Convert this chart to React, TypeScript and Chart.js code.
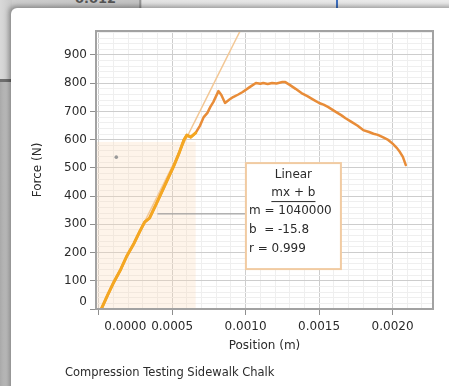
import React, { useEffect, useRef } from 'react';
import { Chart, registerables } from 'chart.js';

Chart.register(...registerables);

const FONT = '"DejaVu Sans", Verdana, sans-serif';
const INK = '#2b2b2b';

// Compression run: plunger position (m) and measured force (N)
const POSITION_M = [
  0.00002, 0.00006, 0.0001, 0.00015, 0.00019, 0.00024, 0.00028, 0.000313, 0.000346, 0.00039,
  0.00043, 0.000467, 0.00051, 0.00055, 0.00058, 0.0006, 0.000627, 0.00066, 0.00069, 0.000715,
  0.00074, 0.00076, 0.00078, 0.000815, 0.000835, 0.00086, 0.00089, 0.000915, 0.00095, 0.00098,
  0.00103, 0.00107, 0.0011, 0.00112, 0.00115, 0.00118, 0.00121, 0.00125, 0.00127, 0.0013,
  0.00134, 0.00138, 0.00142, 0.00146, 0.0015, 0.00153, 0.00156, 0.0016, 0.00165, 0.00168,
  0.00172, 0.00176, 0.0018, 0.00184, 0.00187, 0.0019, 0.00194, 0.00197, 0.002, 0.00203,
  0.00205, 0.00207, 0.00209,
];
const FORCE_N = [
  2, 48, 92, 140, 186, 232, 275, 308, 322, 370,
  415, 457, 505, 556, 599, 616, 609, 624, 650, 680,
  695, 716, 733, 772, 758, 730, 742, 751, 760, 769,
  787, 801, 798, 801, 797, 801, 799, 804, 804, 794,
  780, 765, 754, 742, 730, 724, 716, 703, 687, 676,
  663, 650, 634, 627, 621, 617, 607, 599, 586, 570,
  556, 539, 510,
];

// Analysed selection
const SELECTION_END_M = 0.00066;
const SELECTION_TOP_N = 592;

// Linear fit over the selection
const FIT_M = 1040000;
const FIT_B = -15.8;
const FIT_R = 0.999;
const FIT_SPAN_M = [0, 0.001];

// Stray marker point
const MARKER_X = [0.00012];
const MARKER_F = [538];

// Axis ranges and tick spacing
const X_MIN = -0.000018;
const X_MAX = 0.002275;
const X_MAJOR = 0.0005;
const X_MINOR = 0.0001;
const Y_MIN = 0;
const Y_MAX = 985;
const Y_MAJOR = 100;
const Y_MINOR = 20;

// Fit annotation anchors (data units)
const LEADER_FROM = [0.0004, 337];
const BOX_AT = [0.001002, 517];

const X_TITLE = 'Position (m)';
const Y_TITLE = 'Force (N)';
const CAPTION = 'Compression Testing Sidewalk Chalk';

const isMultiple = (v: number, step: number) => Math.abs(v / step - Math.round(v / step)) < 1e-6;

const decorPlugin = {
  id: 'decor',
  beforeDatasetsDraw(chart: any) {
    const { ctx, chartArea: a, scales } = chart;
    const right = scales.x.getPixelForValue(SELECTION_END_M);
    const top = scales.y.getPixelForValue(SELECTION_TOP_N);
    ctx.save();
    ctx.fillStyle = 'rgba(250, 214, 178, 0.28)';
    ctx.fillRect(a.left, top, right - a.left, a.bottom - top);
    ctx.restore();
  },
  afterDatasetsDraw(chart: any) {
    const { ctx, scales } = chart;
    const bx = scales.x.getPixelForValue(BOX_AT[0]);
    const by = scales.y.getPixelForValue(BOX_AT[1]);
    const lx = scales.x.getPixelForValue(LEADER_FROM[0]);
    const ly = scales.y.getPixelForValue(LEADER_FROM[1]);
    const w = 95;
    const h = 106;
    ctx.save();
    // leader
    ctx.strokeStyle = '#8c8c8c';
    ctx.lineWidth = 1;
    ctx.beginPath();
    ctx.moveTo(lx, ly);
    ctx.lineTo(bx, ly);
    ctx.stroke();
    // box
    ctx.fillStyle = '#ffffff';
    ctx.fillRect(bx, by, w, h);
    ctx.strokeStyle = '#f1cba2';
    ctx.lineWidth = 2;
    ctx.strokeRect(bx, by, w, h);
    ctx.fillStyle = INK;
    ctx.font = `12px ${FONT}`;
    ctx.textBaseline = 'middle';
    ctx.textAlign = 'center';
    const cx = bx + w / 2;
    ctx.fillText('Linear', cx, by + 12);
    ctx.fillText('mx + b', cx, by + 30);
    const uw = ctx.measureText('mx + b').width;
    ctx.strokeStyle = INK;
    ctx.lineWidth = 1;
    ctx.beginPath();
    ctx.moveTo(cx - uw / 2, by + 38.5);
    ctx.lineTo(cx + uw / 2, by + 38.5);
    ctx.stroke();
    ctx.textAlign = 'left';
    ctx.fillText(`m = ${FIT_M}`, bx + 3, by + 48);
    ctx.fillText(`b  = ${FIT_B}`, bx + 3, by + 67);
    ctx.fillText(`r = ${FIT_R}`, bx + 3, by + 86);
    ctx.restore();
  },
  afterDraw(chart: any) {
    const { ctx, chartArea: a } = chart;
    ctx.save();
    ctx.strokeStyle = '#a2a2a2';
    ctx.lineWidth = 2;
    ctx.strokeRect(a.left, a.top, a.right - a.left, a.bottom - a.top);
    ctx.restore();
  },
};

export default function App() {
  const ref = useRef<HTMLCanvasElement | null>(null);

  useEffect(() => {
    if (!ref.current) return;
    const points = POSITION_M.map((x, i) => ({ x, y: FORCE_N[i] }));
    const selected = points.filter((p) => p.x <= SELECTION_END_M);
    const fit = FIT_SPAN_M.map((x) => ({ x, y: FIT_M * x + FIT_B }));
    const marker = MARKER_X.map((x, i) => ({ x, y: MARKER_F[i] }));

    const gridColor = (step: number) => (c: any) =>
      c.tick && isMultiple(c.tick.value, step) ? '#cdcdcd' : '#efefef';
    const tickColor = (step: number) => (c: any) =>
      c.tick && isMultiple(c.tick.value, step) ? '#8e8e8e' : 'rgba(0,0,0,0)';

    const chart = new Chart(ref.current, {
      type: 'line',
      data: {
        datasets: [
          {
            data: selected,
            borderColor: '#f4a722',
            borderWidth: 3,
            pointRadius: 0,
            borderJoinStyle: 'round',
            borderCapStyle: 'round',
          },
          {
            data: points,
            borderColor: '#e88c38',
            borderWidth: 2.5,
            pointRadius: 0,
            borderJoinStyle: 'round',
            borderCapStyle: 'round',
          },
          {
            data: fit,
            borderColor: '#f3c896',
            borderWidth: 1.5,
            pointRadius: 0,
          },
          {
            data: marker,
            showLine: false,
            pointRadius: 1.8,
            pointBorderWidth: 0,
            pointBackgroundColor: '#9a9a9a',
          },
        ],
      },
      options: {
        animation: false,
        responsive: false,
        devicePixelRatio: 1,
        layout: { padding: { left: 27, right: 16, top: 31, bottom: 30 } },
        plugins: { legend: { display: false }, tooltip: { enabled: false } },
        scales: {
          x: {
            type: 'linear',
            min: X_MIN,
            max: X_MAX,
            afterFit: (s: any) => {
              s.height = 47;
            },
            border: { display: false },
            grid: { color: gridColor(X_MAJOR), tickColor: tickColor(X_MAJOR), tickLength: 6, lineWidth: 1 },
            ticks: {
              stepSize: X_MINOR,
              includeBounds: false,
              autoSkip: false,
              maxRotation: 0,
              minRotation: 0,
              padding: 5,
              color: INK,
              font: { family: FONT, size: 12 },
              callback: (v: any) => {
                const n = Number(v);
                if (!isMultiple(n, X_MAJOR)) return '';
                const s = Math.abs(n) < 1e-9 ? (0).toFixed(4) : n.toFixed(4);
                return Math.abs(n) < 1e-9 ? '\u2007'.repeat(7) + s : s;
              },
            },
            title: {
              display: true,
              text: X_TITLE,
              color: INK,
              font: { family: FONT, size: 12 },
              padding: { top: 0, bottom: 3 },
            },
          },
          y: {
            type: 'linear',
            min: Y_MIN,
            max: Y_MAX,
            afterFit: (s: any) => {
              s.width = 69;
            },
            border: { display: false },
            grid: { color: gridColor(Y_MAJOR), tickColor: tickColor(Y_MAJOR), tickLength: 6, lineWidth: 1 },
            ticks: {
              stepSize: Y_MINOR,
              includeBounds: false,
              autoSkip: false,
              padding: 3,
              color: INK,
              font: { family: FONT, size: 12 },
              callback: (v: any) => {
                const n = Number(v);
                if (!isMultiple(n, Y_MAJOR)) return '';
                const s = String(Math.round(n));
                return n === 0 ? [s, ''] : s;
              },
            },
            title: {
              display: true,
              text: Y_TITLE,
              color: INK,
              font: { family: FONT, size: 12 },
              padding: { top: 4, bottom: 4 },
            },
          },
        },
      },
      plugins: [decorPlugin],
    } as any);
    return () => chart.destroy();
  }, []);

  return (
    <div
      style={{
        position: 'fixed',
        left: 0,
        top: 0,
        width: 449,
        height: 386,
        overflow: 'hidden',
        background: '#ffffff',
      }}
    >
      {/* strip of the window behind */}
      <div
        style={{
          position: 'absolute',
          left: 0,
          top: 0,
          width: 449,
          height: 12,
          background: 'linear-gradient(to right, #cfcfcf 0px, #c4c4c4 139px, #7d7d7d 140px, #e4e4e4 142px, #ececec 449px)',
        }}
      />
      <div
        style={{
          position: 'absolute',
          left: 75,
          top: -8,
          fontFamily: FONT,
          fontWeight: 'bold',
          fontSize: 13,
          lineHeight: '13px',
          color: '#555',
        }}
      >
        0.012
      </div>
      <div style={{ position: 'absolute', left: 336, top: 0, width: 2, height: 9, background: '#3d6fc0' }} />
      <div
        style={{
          position: 'absolute',
          left: 0,
          top: 0,
          width: 12,
          height: 80,
          background: 'linear-gradient(to right, #d9d9d9, #c9c9c9)',
        }}
      />
      <div style={{ position: 'absolute', left: 0, top: 79, width: 12, height: 3, background: '#6e6e6e' }} />
      <div
        style={{
          position: 'absolute',
          left: 0,
          top: 82,
          width: 12,
          height: 304,
          background: 'linear-gradient(to right, #a9a9a9, #cfcfcf)',
        }}
      />
      {/* chart panel */}
      <div
        style={{
          position: 'absolute',
          left: 11,
          top: 8,
          width: 460,
          height: 400,
          background: '#ffffff',
          borderTopLeftRadius: 6,
          boxShadow: '-2px -2px 5px rgba(0,0,0,0.35)',
        }}
      />
      <canvas
        ref={ref}
        width={449}
        height={386}
        style={{ position: 'absolute', left: 0, top: 0, width: 449, height: 386 }}
      />
      <div
        style={{
          position: 'absolute',
          left: 65,
          top: 364,
          fontFamily: FONT,
          fontSize: 11.5,
          lineHeight: '16px',
          color: INK,
          whiteSpace: 'nowrap',
        }}
      >
        {CAPTION}
      </div>
    </div>
  );
}
